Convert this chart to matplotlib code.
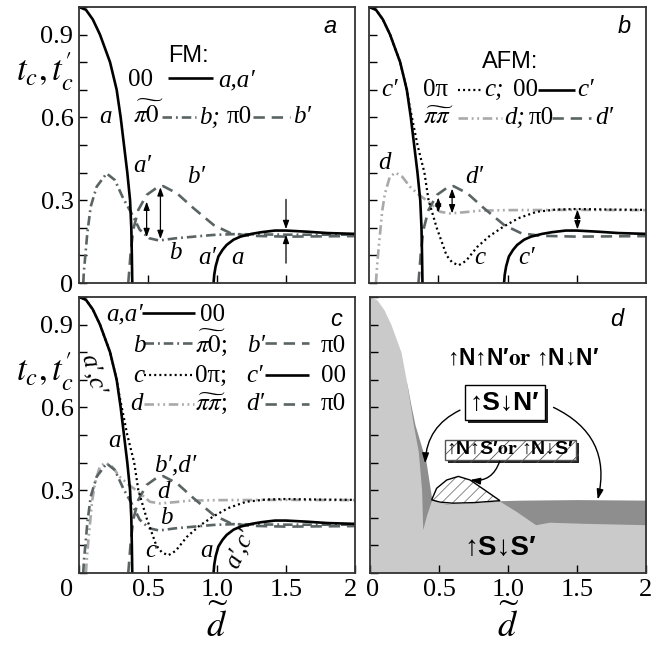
import matplotlib
matplotlib.use("Agg")
import matplotlib.pyplot as plt
import matplotlib.patheffects as pe
from matplotlib.patches import Polygon
from matplotlib.transforms import ScaledTranslation
import numpy as np

plt.rcParams['mathtext.fontset'] = 'stix'
plt.rcParams['font.family'] = ['Liberation Serif', 'DejaVu Serif']
plt.rcParams['hatch.linewidth'] = 0.6

# -----------------------------
# Curves
# -----------------------------

# 00 (a, a', c'): first branch and re-entrant branch
a1_x = [0, 0.05, 0.1, 0.152, 0.225, 0.273, 0.302, 0.326, 0.35, 0.37, 0.379, 0.383, 0.386]
a1_y = [1.0, 0.99, 0.955, 0.9, 0.8, 0.7, 0.6, 0.5, 0.4, 0.3, 0.2, 0.1, 0.0]
a2_x = [0.975, 0.98, 0.99, 1.01, 1.04, 1.07, 1.12, 1.17, 1.25, 1.32, 1.42, 1.5, 1.65, 1.8, 2.0]
a2_y = [0.0, 0.03, 0.06, 0.096, 0.12, 0.138, 0.157, 0.168, 0.178, 0.184, 0.19, 0.19, 0.186, 0.181, 0.178]

# pi~0 (b)
b_x = [0.031, 0.035, 0.043, 0.06, 0.085, 0.128, 0.2, 0.26, 0.32, 0.38, 0.44, 0.51, 0.58, 0.7, 0.97, 1.12, 1.5, 2.0]
b_y = [0.0, 0.04, 0.084, 0.18, 0.277, 0.349, 0.397, 0.373, 0.307, 0.253, 0.193, 0.162, 0.154, 0.162, 0.174, 0.177, 0.175, 0.175]

# pi0 (b', d')
bp_x = [0.357, 0.365, 0.374, 0.393, 0.43, 0.49, 0.563, 0.61, 0.71, 0.83, 0.976, 1.1, 1.24, 1.5, 2.0]
bp_y = [0.0, 0.05, 0.108, 0.193, 0.265, 0.319, 0.345, 0.351, 0.325, 0.271, 0.21, 0.18, 0.171, 0.168, 0.17]

# 0pi (c)
c_x = [0, 0.05, 0.1, 0.152, 0.225, 0.273, 0.29, 0.31, 0.35, 0.40, 0.43, 0.489, 0.56, 0.6, 0.647,
       0.7, 0.78, 0.87, 0.97, 1.08, 1.21, 1.35, 1.5, 1.75, 2.0]
c_y = [1.0, 0.99, 0.955, 0.9, 0.8, 0.7, 0.65, 0.6, 0.5, 0.4, 0.3, 0.2, 0.1, 0.075, 0.064,
       0.08, 0.13, 0.17, 0.204, 0.235, 0.258, 0.266, 0.268, 0.266, 0.265]

# pi~pi (d)
d_x = [0.05, 0.058, 0.07, 0.08, 0.095, 0.115, 0.15, 0.19, 0.24, 0.297, 0.36, 0.43, 0.514, 0.587, 0.7, 0.8, 1.0, 1.5, 2.0]
d_y = [0.0, 0.06, 0.13, 0.18, 0.26, 0.324, 0.384, 0.4, 0.385, 0.348, 0.32, 0.294, 0.258, 0.252, 0.257, 0.262, 0.264, 0.265, 0.264]

# phase diagram (panel d) boundaries
dg_x = [0.266, 0.3, 0.326, 0.366, 0.406, 0.447, 0.5, 0.6, 0.8, 0.94, 1.1, 1.3, 1.5, 1.75, 2.0]
dg_y = [0.69, 0.6, 0.537, 0.47, 0.403, 0.27, 0.255, 0.25, 0.255, 0.262, 0.264, 0.265, 0.266, 0.265, 0.264]
lg_x = [0, 0.05, 0.1, 0.152, 0.225, 0.266, 0.314, 0.35, 0.374, 0.382, 0.41, 0.447, 0.5, 0.55, 0.7, 0.85, 0.94,
        1.06, 1.2, 1.3, 1.55, 2.0]
lg_y = [1.0, 0.99, 0.955, 0.9, 0.8, 0.69, 0.537, 0.44, 0.3, 0.157, 0.21, 0.265, 0.255, 0.25, 0.252, 0.257, 0.26,
        0.223, 0.175, 0.184, 0.18, 0.175]
hatch_x = [0.447, 0.483, 0.556, 0.64, 0.725, 0.833, 0.942, 0.75, 0.6, 0.507]
hatch_y = [0.265, 0.307, 0.337, 0.35, 0.337, 0.30, 0.262, 0.255, 0.253, 0.257]

y_ticks = np.round(np.arange(0, 1.01, 0.1), 1)
y_labels = ['0', '', '', '0.3', '', '', '0.6', '', '', '0.9', '']
x_labels = ['0', '0.5', '1.0', '1.5', '2']

# -----------------------------
# Styles
# -----------------------------

GRAY = '#5b6464'
LGRAY = '#a9a9a9'
SOLID = dict(color='black', lw=1.9, ls='-')
DASHDOT = dict(color=GRAY, lw=1.9, ls=(0, (3.6, 1.5, 0.7, 1.5)))
DASHED = dict(color=GRAY, lw=1.9, ls=(0, (4.3, 2.6)))
DOTTED = dict(color='black', lw=1.6, ls=(0, (0.9, 1.4)))
DASHDOTDOT = dict(color=LGRAY, lw=1.9, ls=(0, (3.6, 1.4, 0.7, 1.4, 0.7, 1.4)))

SERIF = ['Liberation Serif', 'DejaVu Serif']
SANS = ['Liberation Sans', 'DejaVu Sans']
FS = 18
TICKFONT = dict(family=SERIF, size=19)


def setup(ax):
    ax.set_xlim(0, 2)
    ax.set_ylim(0, 1.0)
    ax.set_yticks(y_ticks)
    ax.set_xticks([0.5, 1.0, 1.5])
    ax.tick_params(direction='in', length=6, width=1, labelsize=19, pad=4)
    for s in ax.spines.values():
        s.set_linewidth(1.3)
        s.set_color('#333333')
    ax.set_yticklabels([])
    ax.set_xticklabels([])


def lab(ax, x, y, s, **kw):
    ax.text(x, y, s, fontsize=FS, style='italic', ha='center', va='center', family=SERIF, **kw)


def row(ax, y, items):
    # items: (x, text, italic) for text, (x0, x1, style) for swatch
    for it in items:
        if isinstance(it[2], dict):
            ax.plot([it[0], it[1]], [y[1], y[1]], **it[2], solid_capstyle='butt', dash_capstyle='butt')
        else:
            ax.text(it[0], y[0], it[1], fontsize=FS, ha='left', va='baseline', family=SERIF,
                    style='italic' if it[2] else 'normal')


def darrow(ax, x, y0, y1, style='<|-|>'):
    ax.annotate('', xy=(x, y1), xytext=(x, y0),
                arrowprops=dict(arrowstyle=style + ',head_length=0.5,head_width=0.18',
                                lw=0.9, color='black', shrinkA=0, shrinkB=0, mutation_scale=10))


def ylabel(ax, y):
    ax.text(-0.125, y, r"$t_c,t_c^{\prime}$", transform=ax.transAxes, fontsize=25,
            ha='center', va='center')


def xlabel(ax):
    ax.text(0.5, -0.19, r'$\widetilde{d}$', transform=ax.transAxes, fontsize=26,
            ha='center', va='center')


fig = plt.figure(figsize=(6.69, 6.5), dpi=100)
ax_a = fig.add_axes([79 / 669, 367 / 650, 276 / 669, 276 / 650])
ax_b = fig.add_axes([369 / 669, 367 / 650, 277 / 669, 276 / 650])
ax_c = fig.add_axes([79 / 669, 77 / 650, 276 / 669, 276 / 650])
ax_d = fig.add_axes([370 / 669, 77 / 650, 276 / 669, 276 / 650])
for ax in (ax_a, ax_b, ax_c, ax_d):
    setup(ax)

# -----------------------------
# Panel a: FM
# -----------------------------
ax = ax_a
ax.plot(b_x, b_y, **DASHDOT)
ax.plot(bp_x, bp_y, **DASHED)
ax.plot(a1_x, a1_y, **SOLID)
ax.plot(a2_x, a2_y, **SOLID)
ax.set_yticklabels(y_labels, fontdict=TICKFONT)
ylabel(ax, 0.764)
ax.text(1.82, 0.93, 'a', family=SANS, style='italic', fontsize=17, ha='center', va='center')
ax.text(0.79, 0.824, 'FM:', family=SANS, fontsize=17, ha='center', va='center')
row(ax, (0.712, 0.744), [(0.355, '00', False), (0.647, 0.973, SOLID), (1.01, 'a,a′', True)])
row(ax, (0.578, 0.602), [(0.39, r'$\widetilde{\pi0}$', False), (0.6, 0.85, DASHDOT), (0.87, 'b;', True),
                         (1.07, 'π0', False), (1.26, 1.53, DASHED), (1.55, 'b′', True)])
lab(ax, 0.195, 0.6, 'a')
lab(ax, 0.46, 0.425, 'a′')
lab(ax, 0.85, 0.385, 'b′')
lab(ax, 0.7, 0.11, 'b')
lab(ax, 0.93, 0.09, 'a′')
lab(ax, 1.15, 0.09, 'a')
darrow(ax, 0.49, 0.295, 0.166)
darrow(ax, 0.59, 0.347, 0.159)
darrow(ax, 1.5, 0.303, 0.195, '-|>')
darrow(ax, 1.5, 0.072, 0.175, '-|>')

# -----------------------------
# Panel b: AFM
# -----------------------------
ax = ax_b
ax.plot(d_x, d_y, **DASHDOTDOT)
ax.plot(bp_x, bp_y, **DASHED)
ax.plot(c_x, c_y, **DOTTED)
ax.plot(a1_x, a1_y, **SOLID)
ax.plot(a2_x, a2_y, **SOLID)
ax.text(1.84, 0.93, 'b', family=SANS, style='italic', fontsize=17, ha='center', va='center')
ax.text(1.02, 0.8, 'AFM:', family=SANS, fontsize=17, ha='center', va='center')
row(ax, (0.678, 0.699), [(0.39, '0π', False), (0.645, 0.82, DOTTED), (0.83, 'c;', True),
                         (1.04, '00', False), (1.22, 1.49, SOLID), (1.5, 'c′', True)])
row(ax, (0.576, 0.598), [(0.39, r'$\widetilde{\pi\pi}$', False), (0.645, 0.96, DASHDOTDOT), (0.98, 'd;', True),
                         (1.15, 'π0', False), (1.32, 1.6, DASHED), (1.63, 'd′', True)])
lab(ax, 0.15, 0.70, 'c′')
lab(ax, 0.11, 0.436, 'd')
lab(ax, 0.76, 0.385, 'd′')
lab(ax, 0.8, 0.09, 'c')
lab(ax, 1.14, 0.09, 'c′')
darrow(ax, 0.5, 0.31, 0.255)
darrow(ax, 0.6, 0.342, 0.252)
darrow(ax, 1.505, 0.266, 0.194)

# -----------------------------
# Panel c: all together
# -----------------------------
ax = ax_c
ax.plot(d_x, d_y, **DASHDOTDOT)
ax.plot(b_x, b_y, **DASHDOT)
ax.plot(bp_x, bp_y, **DASHED)
ax.plot(c_x, c_y, **DOTTED)
ax.plot(a1_x, a1_y, **SOLID)
ax.plot(a2_x, a2_y, **SOLID)
ax.set_yticklabels([''] + y_labels[1:], fontdict=TICKFONT)
ax.set_xticks([0, 0.5, 1.0, 1.5, 2.0])
ax.set_xticklabels(x_labels, fontdict=TICKFONT)
ylabel(ax, 0.73)
xlabel(ax)
ax.text(1.86, 0.917, 'c', family=SANS, style='italic', fontsize=17, ha='center', va='center')
row(ax, (0.914, 0.941), [(0.2, 'a,a′', True), (0.454, 0.84, SOLID), (0.877, '00', False)])
row(ax, (0.80, 0.832), [(0.39, 'b', True), (0.47, 0.83, DASHDOT), (0.84, r'$\widetilde{\pi0}$;', False),
                        (1.215, 'b′', True), (1.35, 1.67, DASHED), (1.75, 'π0', False)])
row(ax, (0.693, 0.717), [(0.39, 'c', True), (0.47, 0.83, DOTTED), (0.84, '0π;', False),
                         (1.215, 'c′', True), (1.35, 1.67, SOLID), (1.75, '00', False)])
row(ax, (0.59, 0.612), [(0.37, 'd', True), (0.47, 0.83, DASHDOTDOT), (0.84, r'$\widetilde{\pi\pi}$;', False),
                        (1.215, 'd′', True), (1.35, 1.67, DASHED), (1.75, 'π0', False)])
lab(ax, 0.1, 0.72, 'a′,c′', rotation=-75)
lab(ax, 0.255, 0.48, 'a')
lab(ax, 0.7, 0.39, 'b′,d′')
lab(ax, 0.61, 0.294, 'd')
lab(ax, 0.635, 0.198, 'b')
lab(ax, 0.52, 0.078, 'c')
lab(ax, 0.925, 0.078, 'a')
lab(ax, 1.17, 0.09, 'a′,c′', rotation=65)

# -----------------------------
# Panel d: phase diagram
# -----------------------------
ax = ax_d
ax.fill_between(dg_x, dg_y, 0, color='#8e8e8e', lw=0)
ax.fill_between(lg_x, lg_y, 0, color='#cacaca', lw=0)
ax.add_patch(Polygon(list(zip(hatch_x, hatch_y)), closed=True, facecolor='white',
                     edgecolor='#777777', hatch='///', lw=0))
ax.add_patch(Polygon(list(zip(hatch_x, hatch_y)), closed=True, fill=False,
                     edgecolor='black', lw=1.0))
ax.set_xticks([0, 0.5, 1.0, 1.5, 2.0])
ax.set_xticklabels(x_labels, fontdict=TICKFONT)
xlabel(ax)
ax.text(1.11, 0.776, r'↑N↑N′$\mathbf{or}$ ↑N↓N′', family=SANS, fontweight='bold', fontsize=16.5,
        ha='center', va='center')
ax.text(1.79, 0.92, 'd', family=SANS, style='italic', fontsize=17, ha='center', va='center')
shadow = [pe.SimplePatchShadow(offset=(2.5, -2.5), shadow_rgbFace='#222222', alpha=1), pe.Normal()]
t1 = ax.text(0.976, 0.617, '↑S↓N′', family=SANS, fontweight='bold', fontsize=19, ha='center', va='center',
             bbox=dict(boxstyle='square,pad=0.2', fc='white', ec='black', lw=1))
t1.get_bbox_patch().set_path_effects(shadow)
t2 = ax.text(1.015, 0.447, r'↑N↑S′$\mathbf{or}$ ↑N↓S′', family=SANS, fontweight='bold', fontsize=14,
             ha='center', va='center',
             bbox=dict(boxstyle='square,pad=0.08', fc='white', ec='#555555', lw=1, hatch='//'))
t2.get_bbox_patch().set_path_effects(shadow)
ax.text(0.94, 0.09, '↑S↓S′', family=SANS, fontweight='bold', fontsize=20, ha='center', va='center')
ax.annotate('', xy=(0.40, 0.397), xytext=(0.652, 0.59),
            arrowprops=dict(arrowstyle='-|>,head_length=0.6,head_width=0.2', connectionstyle='arc3,rad=0.3',
                            lw=1, color='black', shrinkA=0, shrinkB=0, mutation_scale=10))
ax.annotate('', xy=(1.65, 0.266), xytext=(1.33, 0.60),
            arrowprops=dict(arrowstyle='-|>,head_length=0.6,head_width=0.2', connectionstyle='arc3,rad=-0.4',
                            lw=1, color='black', shrinkA=0, shrinkB=0, mutation_scale=10))
ax.annotate('', xy=(0.725, 0.337), xytext=(0.94, 0.405),
            arrowprops=dict(arrowstyle='-|>,head_length=0.6,head_width=0.2', connectionstyle='arc3,rad=-0.4',
                            lw=1, color='black', shrinkA=0, shrinkB=0, mutation_scale=10))

# shift the crowded bottom labels apart
lbls = ax_c.get_xticklabels()
lbls[0].set_transform(lbls[0].get_transform() + ScaledTranslation(-12 / 100, 0, fig.dpi_scale_trans))
lbls[-1].set_transform(lbls[-1].get_transform() + ScaledTranslation(-5 / 100, 0, fig.dpi_scale_trans))
lbls = ax_d.get_xticklabels()
lbls[0].set_transform(lbls[0].get_transform() + ScaledTranslation(3 / 100, 0, fig.dpi_scale_trans))

fig.savefig("out.png", dpi=100)
